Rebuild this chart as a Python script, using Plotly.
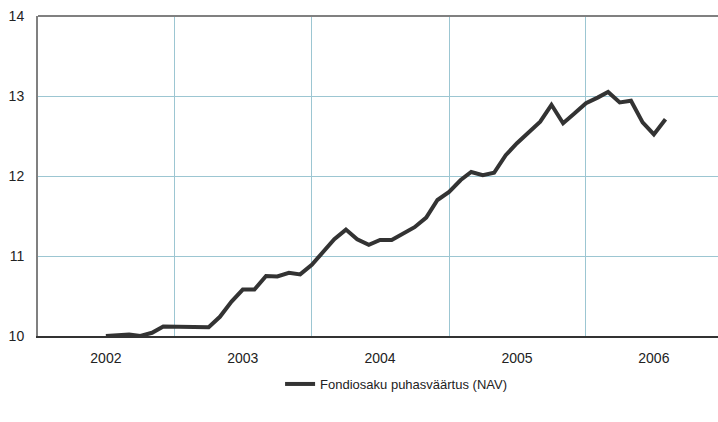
import pandas as pd
import plotly.graph_objects as go

# Monthly NAV values, starting July 2002
start_month = "2002-07-01"
nav_values = [
    10.00, 10.01, 10.02, 10.00, 10.04, 10.12, 10.12, 10.12, 10.12, 10.11,
    10.24, 10.43, 10.58, 10.58, 10.75, 10.745, 10.79, 10.77, 10.89, 11.05,
    11.21, 11.33, 11.21, 11.14, 11.20, 11.20, 11.28, 11.36, 11.48, 11.70,
    11.80, 11.95, 12.05, 12.01, 12.04, 12.26, 12.41, 12.55, 12.68, 12.89,
    12.66, 12.78, 12.91, 12.98, 13.05, 12.92, 12.94, 12.67, 12.52, 12.71,
]
years = ["2002", "2003", "2004", "2005", "2006"]
y_ticks = [10, 11, 12, 13, 14]
series_name = "Fondiosaku puhasväärtus (NAV)"

dates = pd.date_range(start_month, periods=len(nav_values), freq="MS")
year_mid = [f"{y}-07-01" for y in years]

fig = go.Figure()
fig.add_trace(go.Scatter(
    x=dates, y=nav_values, mode="lines", name=series_name,
    line=dict(color="#333333", width=4),
    showlegend=True,
))

grid_col = "#9cc6d2"
fig.update_layout(
    width=718, height=422,
    margin=dict(l=38, r=0, t=16, b=86, autoexpand=False),
    paper_bgcolor="white", plot_bgcolor="white",
    font=dict(family="Liberation Sans, Arial, sans-serif", size=14, color="#222222"),
    showlegend=True,
    legend=dict(orientation="h", x=0.356, xanchor="left", y=-0.15, yanchor="middle",
                font=dict(size=13, color="#222222"), itemwidth=30),
    xaxis=dict(
        type="date", automargin=False,
        range=["2002-01-01", "2006-12-19"],
        tickmode="array", tickvals=year_mid, ticktext=years,
        showgrid=False, ticks="", zeroline=False,
        showline=True, linecolor="#333333", linewidth=2,
        ticklabelstandoff=8,
        minor=dict(dtick="M12", tick0="2002-01-01", showgrid=True,
                   gridcolor=grid_col, gridwidth=1, ticks=""),
        tickfont=dict(size=14),
    ),
    yaxis=dict(
        automargin=False,
        range=[10, 14], tickmode="array", tickvals=y_ticks,
        ticktext=[str(v) for v in y_ticks],
        showgrid=True, gridcolor=grid_col, gridwidth=1,
        zeroline=False, ticks="",
        showline=True, linecolor="#808080", linewidth=2,
        ticklabelstandoff=9,
        tickfont=dict(size=14),
    ),
    shapes=[dict(type="line", xref="paper", yref="paper", x0=0, x1=1, y0=1, y1=1,
                 line=dict(color="#808080", width=2))],
)

fig.write_html("out.html",
               config={"displayModeBar": False},
               post_script="document.body.style.margin='0';document.body.style.overflow='hidden';")
